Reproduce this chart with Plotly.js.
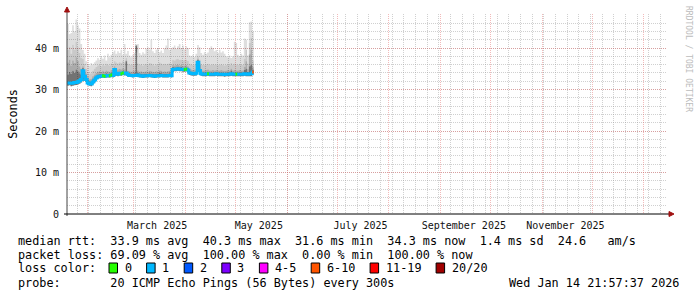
<!DOCTYPE html>
<html><head><meta charset="utf-8">
<script src="https://cdn.plot.ly/plotly-3.0.1.min.js"></script>
<style>html,body{margin:0;padding:0;background:#fff;} #chart{width:697px;height:297px;}</style>
</head><body><div id="chart"></div>
<script>
// ---------------- data ----------------
const firstDay = '2025-01-20';
const rangeStart = '2025-01-19 21:57:37';
const rangeEnd = '2026-01-14 21:57:37';

// median rtt (ms), one value per day
const median = [
31.6,31.6,31.5,31.6,31.7,31.7,31.9,32.1,32.4,
34.5,33.2,32.4,31.6,31.3,31.3,31.8,32.3,32.8,33.1,
33.2,33.2,33.3,33.2,33.4,33.3,33.3,33.5,33.4,
34.8,33.9,33.7,33.9,33.8,34.0,33.9,34.0,33.6,33.4,33.4,33.3,33.4,33.4,
33.5,33.3,33.3,33.2,33.3,33.3,33.3,33.4,33.3,33.3,33.2,33.3,33.3,33.3,33.4,33.3,33.3,33.3,33.3,33.4,
33.3,
34.8,34.9,34.9,35.0,34.9,34.9,34.8,34.8,34.9,34.7,
34.0,33.9,33.8,33.8,33.9,
36.6,34.6,
33.8,33.7,33.7,33.7,33.8,33.7,33.7,33.7,33.7,33.8,
33.7,33.7,33.7,33.7,33.6,33.7,33.7,33.7,33.8,33.7,
33.7,33.7,33.7,33.7,33.7,33.7,33.8,33.7,33.7,33.8,
33.8,34.2];

// smoke: lowest ping
const smokeMin = [
30.9,31.0,30.8,30.9,31.0,31.1,31.2,31.4,31.7,
32.0,32.5,31.8,31.1,30.9,30.8,31.2,31.7,32.2,32.6,
32.7,32.8,32.9,32.8,32.9,32.9,32.9,33.0,32.9,
33.2,33.3,33.2,33.4,33.3,33.5,33.4,33.5,33.1,33.0,33.0,32.9,33.0,33.0,
33.0,32.9,32.9,32.8,32.9,32.9,32.9,33.0,32.9,32.9,32.8,32.9,32.9,32.9,33.0,32.9,32.9,32.9,32.9,33.0,
32.9,
34.2,34.4,34.4,34.5,34.4,34.4,34.3,34.3,34.4,34.1,
33.5,33.4,33.3,33.3,33.4,
35.8,34.0,
33.3,33.2,33.2,33.2,33.3,33.2,33.2,33.2,33.2,33.3,
33.2,33.2,33.2,33.2,33.1,33.2,33.2,33.2,33.3,33.2,
33.2,33.2,33.2,33.2,33.2,33.2,33.3,33.2,33.2,33.2,
33.2,33.6];

// smoke: top of darkest band
const smokeDark = [
33.6,34.2,33.8,34.5,34.0,34.8,34.4,33.9,33.6,
35.2,34.0,33.2,32.3,31.9,32.0,32.5,32.9,33.3,33.6,
33.7,33.6,33.8,33.6,33.9,33.8,33.7,34.0,33.9,
35.2,34.4,34.1,34.3,34.2,34.4,34.3,36.8,34.0,33.9,33.8,33.8,33.9,40.4,
34.0,33.8,33.8,33.7,33.8,33.8,33.8,33.9,33.8,33.8,33.7,33.8,33.8,34.0,33.9,33.8,33.8,33.8,33.8,33.9,
33.8,
35.4,35.3,35.3,35.5,35.3,35.4,35.2,35.2,35.3,35.2,
34.5,34.3,34.2,34.2,34.4,
37.1,36.0,
34.2,34.1,34.1,34.1,34.2,34.1,34.1,34.1,34.1,34.2,
34.1,34.1,34.1,34.1,34.0,34.1,34.1,34.1,34.6,34.1,
34.1,34.1,34.1,34.1,34.1,34.1,34.7,35.0,34.2,35.6,
35.9,34.8];

// smoke: top of medium band
const smokeMid = [
36.5,37.2,35.8,37.0,36.4,37.8,36.9,35.6,35.0,
35.6,34.6,33.8,33.0,32.5,32.6,33.2,33.6,34.0,34.3,
34.4,34.2,34.5,34.3,34.6,34.4,34.3,34.7,34.5,
35.6,35.0,34.8,35.0,34.8,35.1,34.9,37.0,34.5,34.4,34.3,34.4,34.5,40.6,
34.6,34.3,34.4,34.2,34.3,34.4,34.3,34.5,34.4,34.3,34.2,34.4,34.3,34.6,34.5,34.3,34.4,34.3,34.4,34.5,
34.4,
35.9,35.8,35.9,36.0,35.8,35.9,35.7,35.8,35.9,35.6,
35.0,34.8,34.7,34.8,34.9,
37.4,36.4,
34.7,34.6,34.6,34.7,34.8,34.6,34.6,34.7,34.6,34.7,
34.6,34.6,34.7,34.6,34.5,34.6,34.7,34.6,35.0,34.6,
34.7,34.6,34.6,34.7,34.6,34.6,35.5,36.8,34.9,38.5,
39.6,35.5];

// smoke: top of light band
const smokeLight = [
39.5,40.3,38.6,40.8,39.6,41.5,40.2,38.8,37.6,
37.4,36.2,35.0,34.2,33.8,33.9,34.5,35.0,35.4,35.8,
35.9,35.6,36.0,35.8,36.2,35.9,35.8,36.3,36.0,
36.8,36.5,36.3,36.6,36.4,36.8,36.5,37.6,36.2,36.0,35.9,36.1,36.2,40.8,
36.3,35.9,36.1,35.8,36.0,36.2,36.0,36.4,36.3,36.0,35.8,36.1,36.0,36.5,36.3,36.0,36.2,36.0,36.2,36.3,
36.2,
37.2,37.0,37.3,37.4,37.1,37.2,37.0,37.1,37.2,36.9,
36.2,36.0,35.9,36.0,36.1,
38.0,37.2,
36.0,35.9,35.9,36.0,36.2,35.9,35.9,36.1,35.9,36.0,
35.9,35.9,36.1,35.9,35.8,35.9,36.0,35.9,36.4,35.9,
36.3,36.0,35.9,36.1,35.9,35.9,37.4,39.5,36.2,41.2,
42.5,37.0];

// smoke: highest ping
const smokeMax = [
45.8,43.4,43.6,45.5,44.0,46.9,45.5,44.7,41.0,
39.5,38.6,36.8,36.2,35.8,36.4,36.0,36.6,37.0,37.6,
37.2,38.0,37.4,38.2,37.0,38.6,37.8,38.4,39.0,
39.4,38.6,39.2,38.8,39.6,38.4,41.0,38.6,39.3,38.2,37.8,38.4,38.8,39.0,
41.0,38.8,38.4,39.0,38.6,39.8,40.2,39.6,42.0,39.2,38.8,39.6,40.0,39.0,39.4,38.8,39.9,40.6,42.3,39.6,
39.8,
40.2,40.6,39.8,40.4,41.0,40.0,40.6,39.7,40.4,40.0,
38.2,38.0,38.4,37.9,38.6,
40.7,40.2,
38.8,38.4,39.0,38.6,38.9,39.8,40.4,40.0,39.2,39.5,
38.8,39.6,38.9,39.2,38.6,38.0,37.8,38.2,37.6,38.0,
41.5,41.2,38.4,38.0,38.6,38.2,42.3,42.0,38.2,46.2,
46.4,44.0];

// lost pings (of 20) per day
const lossCount = [
1,1,1,1,1,1,1,1,1,
1,1,1,1,1,1,1,1,1,1,
1,1,0,0,1,1,0,0,1,
1,1,1,1,0,0,1,1,1,1,1,1,1,1,
1,1,1,1,1,1,1,1,1,1,1,1,1,1,1,1,1,1,1,1,
1,
1,1,1,1,1,1,1,0,0,1,
1,1,1,1,1,
1,1,
1,1,1,1,0,1,1,1,1,1,
1,1,1,1,1,1,1,1,1,1,
1,0,1,1,1,1,1,1,1,1,
1,8];

const lossLabels = ['0','1','2','3','4-5','6-10','11-19','20/20'];
const lossLimits = [0,1,2,3,5,10,19,20];
const lossColors = ['#26ff00','#00b8ff','#0059ff','#7e00ff','#ff00ff','#ff5500','#ff0000','#a00000'];

const yTickVals = [0,10,20,30,40];
const yTickText = ['0','10 m','20 m','30 m','40 m'];
const monthStarts = ['2025-02-01','2025-03-01','2025-04-01','2025-05-01','2025-06-01','2025-07-01',
  '2025-08-01','2025-09-01','2025-10-01','2025-11-01','2025-12-01','2026-01-01'];
const monthLabelVals = ['2025-03-15','2025-05-15','2025-07-15','2025-09-15','2025-11-15'];
const monthLabelText = ['March 2025','May 2025','July 2025','September 2025','November 2025'];

const statsMedian = 'median rtt:  33.9 ms avg  40.3 ms max  31.6 ms min  34.3 ms now  1.4 ms sd  24.6   am/s';
const statsLoss = 'packet loss: 69.09 % avg  100.00 % max  0.00 % min  100.00 % now';
const lossTitle = 'loss color:';
const probeText = 'probe:       20 ICMP Echo Pings (56 Bytes) every 300s';
const stampText = 'Wed Jan 14 21:57:37 2026';
const watermark = 'RRDTOOL / TOBI OETIKER';

// ---------------- build ----------------
const n = median.length;
const d0 = new Date(firstDay + 'T00:00:00Z');
const dates = [];
for (let i = 0; i <= n; i++) {
  const d = new Date(d0.getTime() + i * 86400000);
  dates.push(d.toISOString().slice(0, 10));
}
const ext = a => a.concat([a[a.length - 1]]);

const L = 67, T = 14, PW = 600, PH = 200;
const px = x => (x - L) / PW;
const py = y => (T + PH - y) / PH;

const mono = 'DejaVu Sans Mono';
const nb = s => s.replace(/ /g, '\u00a0');

const bands = [
  {y: smokeDark,  c: 'rgba(0,0,0,0.55)'},
  {y: smokeMid,   c: 'rgba(0,0,0,0.33)'},
  {y: smokeLight, c: 'rgba(0,0,0,0.21)'},
  {y: smokeMax,   c: 'rgba(0,0,0,0.13)'}
];
const traces = [];
traces.push({x: dates, y: ext(smokeMin), mode: 'lines', line: {width: 0, shape: 'hv'}, hoverinfo: 'skip', showlegend: false});
bands.forEach(b => traces.push({x: dates, y: ext(b.y), mode: 'lines', fill: 'tonexty', fillcolor: b.c,
  line: {width: 0, shape: 'hv'}, hoverinfo: 'skip', showlegend: false}));

function lossClass(v) { for (let k = 0; k < lossLimits.length; k++) if (v <= lossLimits[k]) return k; return lossLimits.length - 1; }
traces.push({x: dates, y: ext(median), mode: 'lines', line: {color: lossColors[1], width: 3, shape: 'hv'}, showlegend: false, hoverinfo: 'skip'});
lossColors.forEach((col, k) => {
  if (k === 1) return;
  const xs = [], ys = [];
  for (let i = 0; i < n; i++) {
    if (lossClass(lossCount[i]) === k) { xs.push(dates[i], dates[i + 1], null); ys.push(median[i], median[i], null); }
  }
  if (xs.length) traces.push({x: xs, y: ys, mode: 'lines', line: {color: col, width: 3}, connectgaps: false, showlegend: false, hoverinfo: 'skip'});
});
traces.push({x: [], y: [], xaxis: 'x2', mode: 'lines', showlegend: false});

const gridMajor = 'rgba(225,90,90,0.42)';
const gridMinor = 'rgba(150,150,150,0.45)';

const annotations = [];
const rowY = [241, 255, 268, 283];
const addText = (t, x, y, anchor) => annotations.push({text: nb(t), xref: 'paper', yref: 'paper', x: px(x), y: py(y),
  xanchor: anchor || 'left', yanchor: 'middle', showarrow: false, font: {family: mono, size: 11.8, color: '#000'}});
addText(statsMedian, 16, rowY[0]);
addText(statsLoss, 16, rowY[1]);
addText(lossTitle, 16, rowY[2]);
addText(probeText, 16, rowY[3]);
addText(stampText, 681, rowY[3], 'right');

const shapes = [];
const cw = 7.1;
let bx = 109;
lossLabels.forEach((lab, k) => {
  shapes.push({type: 'rect', xref: 'paper', yref: 'paper', x0: px(bx), x1: px(bx + 8.5), y0: py(rowY[2] + 5), y1: py(rowY[2] - 5),
    fillcolor: lossColors[k], line: {color: '#000', width: 1}});
  addText(lab, bx + 13.5, rowY[2]);
  bx += 13.5 + cw * lab.length + 17;
});

annotations.push({text: watermark, xref: 'paper', yref: 'paper', x: px(688), y: py(59), textangle: 90,
  xanchor: 'center', yanchor: 'middle', showarrow: false, font: {family: mono, size: 8, color: '#bcbcbc'}});

shapes.push({type: 'line', xref: 'paper', yref: 'paper', x0: 0, x1: 0, y0: py(216), y1: py(10), line: {color: '#444', width: 1}});
shapes.push({type: 'line', xref: 'paper', yref: 'paper', x0: px(64), x1: px(670), y0: 0, y1: 0, line: {color: '#000', width: 1}});
shapes.push({type: 'path', xref: 'paper', yref: 'paper', fillcolor: '#a01010', line: {color: '#a01010', width: 1},
  path: `M ${px(64.5)} ${py(12)} L ${px(69.5)} ${py(12)} L ${px(67)} ${py(7)} Z`});
shapes.push({type: 'path', xref: 'paper', yref: 'paper', fillcolor: '#a01010', line: {color: '#a01010', width: 1},
  path: `M ${px(669)} ${py(211.5)} L ${px(669)} ${py(216.5)} L ${px(674)} ${py(214)} Z`});

const layout = {
  width: 697, height: 297,
  margin: {l: L, r: 697 - L - PW, t: T, b: 297 - T - PH, pad: 0},
  paper_bgcolor: '#fff', plot_bgcolor: '#fff',
  showlegend: false,
  xaxis: {type: 'date', range: [rangeStart, rangeEnd], tickvals: monthStarts, ticktext: monthStarts.map(() => ''),
    showgrid: true, gridcolor: gridMajor, griddash: '1px,1px', gridwidth: 1,
    minor: {dtick: 7 * 86400000, tick0: '2025-01-19', showgrid: true, gridcolor: gridMinor, griddash: '1px,1px', gridwidth: 1},
    showline: false, zeroline: false, ticks: '', showticklabels: false, fixedrange: true},
  xaxis2: {type: 'date', overlaying: 'x', anchor: 'y', side: 'bottom', range: [rangeStart, rangeEnd],
    tickvals: monthLabelVals, ticktext: monthLabelText, showgrid: false, zeroline: false, showline: false,
    ticks: 'outside', ticklen: 2, tickcolor: 'rgba(0,0,0,0)', tickfont: {family: mono, size: 10, color: '#111'}},
  yaxis: {range: [0, 48.2], tickvals: yTickVals, ticktext: yTickText, showgrid: true, gridcolor: gridMajor,
    griddash: '1px,1px', gridwidth: 1,
    minor: {dtick: 2, tick0: 0, showgrid: true, gridcolor: gridMinor, griddash: '1px,1px', gridwidth: 1},
    showline: false, zeroline: false, ticks: 'outside', ticklen: 5, tickcolor: 'rgba(0,0,0,0)',
    tickfont: {family: mono, size: 10, color: '#111'},
    title: {text: 'Seconds', font: {family: mono, size: 11.8, color: '#000'}, standoff: 14}},
  annotations: annotations,
  shapes: shapes
};

Plotly.newPlot('chart', traces, layout, {displayModeBar: false, staticPlot: true});
</script>
</body></html>
